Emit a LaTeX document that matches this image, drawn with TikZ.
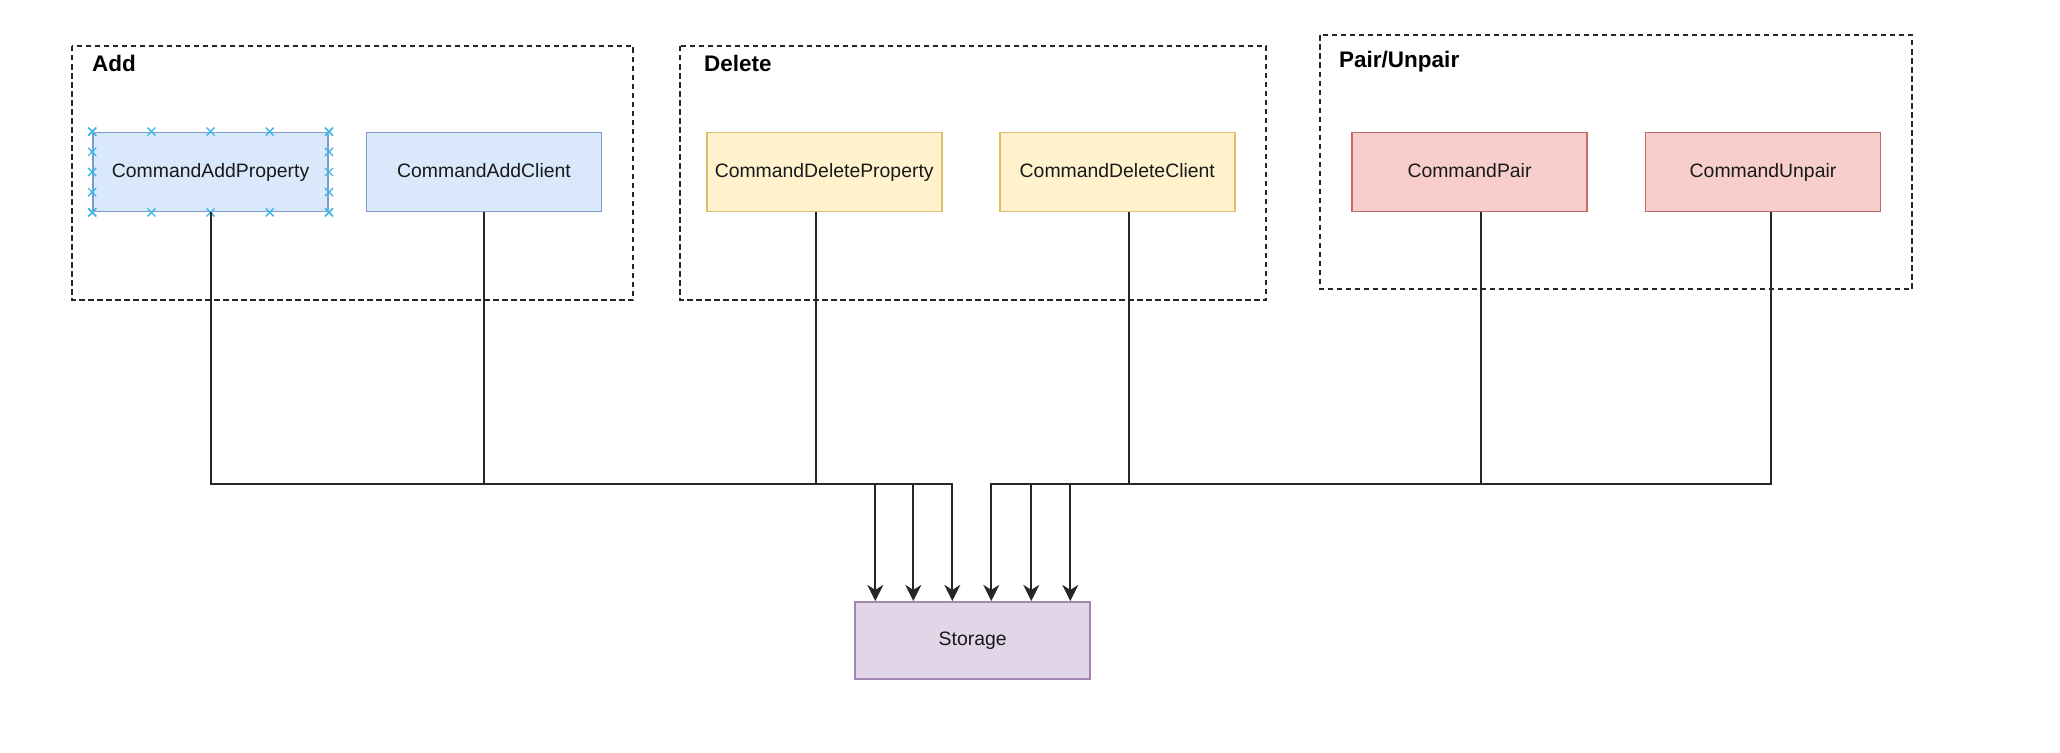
\documentclass[tikz,border=0pt]{standalone}
\usepackage{fontspec}
\setmainfont{Liberation Sans}
\usetikzlibrary{arrows.meta,calc}
\definecolor{bluefill}{HTML}{DAE8FC}
\definecolor{bluedraw}{HTML}{7C9CCB}
\definecolor{yelfill}{HTML}{FFF2CC}
\definecolor{yeldraw}{HTML}{DDBF6A}
\definecolor{redfill}{HTML}{F8CECC}
\definecolor{reddraw}{HTML}{C46A67}
\definecolor{purfill}{HTML}{E1D5E7}
\definecolor{purdraw}{HTML}{A385B2}
\definecolor{selcol}{HTML}{3DB8E6}
\begin{document}
\begin{tikzpicture}[x=1pt,y=-1pt,
  box/.style={draw, line width=1.8pt, minimum width=235pt, minimum height=79pt, inner sep=0pt,
    text height=14pt, text depth=4pt,
    font=\fontsize{19.4}{22}\selectfont, text=black!90},
  bluebox/.style={box, fill=bluefill, draw=bluedraw},
  yelbox/.style={box, fill=yelfill, draw=yeldraw},
  redbox/.style={box, fill=redfill, draw=reddraw},
  purbox/.style={box, fill=purfill, draw=purdraw, minimum height=77pt},
  groupbox/.style={draw=black!85, dash pattern=on 5.5pt off 3.5pt, line width=2pt},
  grouplabel/.style={anchor=west, inner sep=0pt, font=\bfseries\fontsize{22.5}{26}\selectfont},
  conn/.style={draw=black!85, line width=2pt},
  arr/.style={conn, -{Stealth[length=16pt,width=16pt,inset=5pt]}},
  selmark/.style={draw=selcol, line width=1.4pt}
]
\useasboundingbox[fill=white] (0,0) rectangle (2060,752);

% groups
\draw[groupbox] (72,46) rectangle (633,300);
\draw[groupbox] (680,46) rectangle (1266,300);
\draw[groupbox] (1320,35.5) rectangle (1912,289);
\node[grouplabel] (addlbl) at (92,63) {Add};
\node[grouplabel] (dellbl) at (704,63) {Delete};
\node[grouplabel] (pairlbl) at (1339,62) {Pair/Unpair};

% nodes
\node[bluebox] (cap) at (210.6,172) {CommandAddProperty};
\node[bluebox] (cac) at (484,172) {CommandAddClient};
\node[yelbox] (cdp) at (824.2,172) {CommandDeleteProperty};
\node[yelbox] (cdc) at (1117.3,172) {CommandDeleteClient};
\node[redbox] (cp) at (1469.5,172) {CommandPair};
\node[redbox] (cu) at (1763,172) {CommandUnpair};
\node[purbox] (st) at (972.7,640.3) {Storage};

% selection markers on CommandAddProperty
\foreach \t in {0,0.25,0.5,0.75,1}{
  \foreach \a/\b in {north west/north east, south west/south east, north west/south west, north east/south east}{
    \path ($(cap.\a)!\t!(cap.\b)$) coordinate (sm);
    \draw[selmark] ([shift={(-4,-4)}]sm) -- ([shift={(4,4)}]sm)
                   ([shift={(-4,4)}]sm) -- ([shift={(4,-4)}]sm);
  }
}

% connectors
\coordinate (bus) at (0,483.5);
\path (st.north west) ++(21,0) coordinate (a1)
      (st.north west) ++(59,0) coordinate (a2)
      (st.north west) ++(98,0) coordinate (a3)
      (st.north west) ++(137,0) coordinate (a4)
      (st.north west) ++(177,0) coordinate (a5)
      (st.north west) ++(216,0) coordinate (a6);
\draw[arr] (cap.south) |- (a1 |- bus) -- (a1);
\draw[arr] (cac.south) |- (a2 |- bus) -- (a2);
\draw[arr] ([xshift=-8pt]cdp.south) |- (a3 |- bus) -- (a3);
\draw[arr] ([xshift=12pt]cdc.south) |- (a4 |- bus) -- (a4);
\draw[arr] ([xshift=11.5pt]cp.south) |- (a5 |- bus) -- (a5);
\draw[arr] ([xshift=7.7pt]cu.south) |- (a6 |- bus) -- (a6);
\end{tikzpicture}
\end{document}
